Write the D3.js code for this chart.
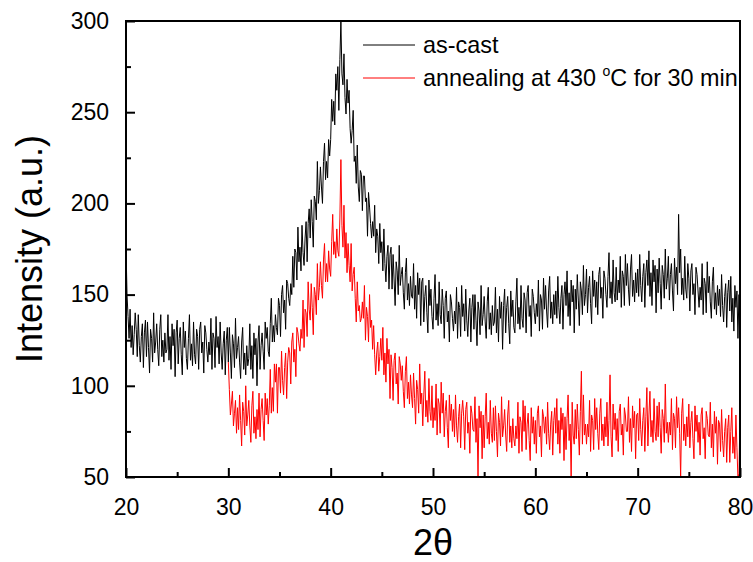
<!DOCTYPE html>
<html>
<head>
<meta charset="utf-8">
<script src="https://cdn.jsdelivr.net/npm/d3@7"></script>
<style>
  body { margin: 0; background: #fff; }
  svg { display: block; font-family: "Liberation Sans", Arial, sans-serif; }
</style>
</head>
<body>
<div id="chart"></div>
<script>
// ---- data ----
const seriesNames = ["as-cast", "annealing at 430 °C for 30 min"];
const seriesColors = ["#000000", "#ff0000"];
const xStep = 0.1;
const asCastStart = 20;
const asCast = [
176,150,138,126,142,121,133,117,128,140,
131,116,139,122,113,127,134,110,129,136,
116,135,121,107,131,126,113,140,118,124,
134,120,111,131,139,116,125,113,129,118,
120,139,114,127,109,134,122,131,105,129,
136,112,126,132,117,106,135,121,130,115,
109,126,139,114,123,111,135,117,112,131,
127,109,131,135,118,124,107,133,129,120,
113,124,117,137,109,129,126,110,138,121,
127,112,135,118,109,123,130,106,125,132,
113,132,118,104,128,123,110,137,115,121,
127,113,104,124,132,109,118,106,122,111,
115,134,109,122,104,129,117,126,100,124,
133,109,122,129,119,109,135,126,132,119,
116,134,148,124,133,124,139,132,128,148,
144,127,150,155,140,147,131,158,156,148,
144,156,150,171,154,175,173,158,187,168,
176,163,188,173,166,181,190,168,189,197,
181,202,190,176,204,201,191,223,200,207,
220,209,200,223,233,213,223,214,235,226,
235,257,245,256,243,271,262,275,251,279,
300,271,265,282,258,249,268,255,262,241,
233,240,251,223,226,211,232,209,201,218,
216,196,215,215,201,203,182,206,198,189,
181,190,182,199,173,186,182,167,189,173,
179,163,186,167,157,171,177,153,172,176,
153,172,158,144,168,163,150,177,155,161,
165,151,142,162,170,147,156,144,160,149,
148,167,142,155,137,162,150,159,133,157,
159,135,149,155,140,129,158,144,153,138,
131,148,161,136,145,133,157,139,134,153,
144,126,148,152,135,141,124,150,146,137,
130,141,134,154,126,146,143,127,155,138,
145,130,153,136,127,141,148,124,143,150,
131,150,136,122,146,141,128,155,133,139,
149,135,126,146,154,131,140,128,144,133,
135,154,129,142,124,149,137,146,120,144,
153,129,143,149,134,123,152,138,147,132,
129,146,159,134,143,131,155,137,132,151,
147,129,151,155,138,144,127,153,149,140,
134,145,138,158,130,150,147,131,159,142,
155,141,132,152,160,137,146,134,150,139,
152,137,160,143,134,148,155,131,150,157,
144,163,138,151,133,158,146,155,129,153,
142,161,147,133,157,152,139,166,144,150,
164,140,154,160,145,134,163,149,158,143,
157,139,161,165,148,154,137,163,159,150,
143,160,173,148,157,145,169,151,146,165,
147,158,151,171,143,163,160,144,172,155,
167,153,144,164,172,149,158,146,162,151,
164,149,172,155,146,160,167,143,162,169,
155,174,149,162,144,169,157,166,140,164,
151,170,156,142,166,161,148,175,153,159,
171,147,161,167,152,141,170,156,165,150,
194,162,175,150,159,147,171,153,148,167,
159,141,163,167,150,156,139,165,161,152,
143,154,147,167,139,159,156,140,168,151,
160,146,137,157,165,142,151,139,155,144,
153,138,161,144,135,149,156,132,151,158,
141,160,135,148,130,155,143,152,126,150,
116
];
const annealedStart = 30;
const annealed = [
113,98,84,90,97,78,85,92,74,88,
76,95,81,67,91,86,73,100,78,84,
92,78,69,89,97,74,83,71,87,76,
96,72,87,93,81,70,96,84,93,79,
89,109,85,99,86,112,102,112,85,110,
110,96,119,103,95,110,118,93,113,121,
118,101,124,129,113,120,105,132,129,123,
119,131,126,147,121,142,140,127,157,142,
136,156,143,128,154,150,139,167,147,154,
168,155,148,169,178,157,167,157,174,164,
160,179,194,172,179,170,186,174,171,192,
224,188,176,199,170,184,162,178,166,157,
178,152,161,165,148,135,157,141,144,135,
137,146,137,155,125,143,138,124,150,132,
136,120,133,117,106,118,124,108,116,126,
114,132,106,118,102,126,112,120,93,117,
110,92,114,118,101,107,90,116,112,103,
111,97,88,108,116,93,102,90,106,95,
88,107,93,79,103,98,85,112,90,96,
78,95,108,83,92,80,104,86,81,100,
77,88,81,101,73,93,90,74,102,85,
96,72,86,92,77,66,95,81,90,75,
87,72,95,78,69,83,90,66,85,92,
83,65,87,91,74,80,63,89,85,76,
75,94,69,82,50,89,77,86,60,84,
66,83,96,71,80,68,92,74,69,88,
70,89,75,61,85,80,67,94,72,78,
87,73,64,84,92,69,78,66,82,71,
67,78,71,91,63,83,80,64,92,75,
89,65,79,85,70,59,88,74,83,68,
81,63,85,89,72,78,61,87,83,74,
83,68,91,74,65,79,86,62,81,88,
74,93,68,81,63,88,76,85,59,83,
65,82,95,70,79,49,91,73,68,87,
71,90,76,62,86,108,68,95,73,79,
68,79,72,92,64,84,81,65,93,76,
88,74,65,85,93,70,79,67,83,72,
91,67,81,106,72,61,90,76,85,70,
82,64,86,90,73,79,62,88,84,75,
75,94,69,82,64,89,77,86,60,84,
85,70,93,76,67,81,88,64,83,99,
67,84,97,72,81,69,93,75,70,89,
72,91,77,63,87,82,69,101,74,80,
69,80,73,93,65,85,82,66,94,77,
88,74,50,85,93,70,79,67,83,72,
90,66,80,86,71,60,89,75,84,69,
80,62,84,88,71,77,60,86,82,73,
72,91,66,79,61,86,74,83,57,81,
79,64,87,70,61,75,82,58,77,84,
58,75,88,63,72,60,84,66,49,52,
86
];
const xTicks = [20, 30, 40, 50, 60, 70, 80];
const xMinorTicks = [25, 35, 45, 55, 65, 75];
const yTicks = [50, 100, 150, 200, 250, 300];
const yMinorTicks = [75, 125, 175, 225, 275];
const xLabel = "2θ";
const yLabel = "Intensity (a.u.)";

// ---- layout ----
const W = 753, H = 562;
const L = 126, R = 740, T = 21, B = 477;

const svg = d3.select("#chart").append("svg").attr("width", W).attr("height", H);

const x = d3.scaleLinear().domain([20, 80]).range([L, R]);
const y = d3.scaleLinear().domain([50, 300]).range([B, T]);

svg.append("clipPath").attr("id", "plotclip")
  .append("rect").attr("x", L).attr("y", T).attr("width", R - L).attr("height", B - T);

const toPts = (arr, start) => arr.map((v, i) => [start + i * xStep, v]);
const line = d3.line().x(d => x(d[0])).y(d => y(d[1]));

const g = svg.append("g").attr("clip-path", "url(#plotclip)");
g.append("path").datum(toPts(asCast, asCastStart))
  .attr("d", line).attr("fill", "none").attr("stroke", seriesColors[0]).attr("stroke-width", 1);
g.append("path").datum(toPts(annealed, annealedStart))
  .attr("d", line).attr("fill", "none").attr("stroke", seriesColors[1]).attr("stroke-width", 1);

// axes (ticks inward)
const fontSize = 23;
svg.append("g").attr("transform", `translate(0,${B})`)
  .call(d3.axisBottom(x).tickValues(xTicks).tickSize(-9).tickPadding(22).tickFormat(d3.format("d")));
svg.append("g").attr("transform", `translate(0,${B})`)
  .call(d3.axisBottom(x).tickValues(xMinorTicks).tickSize(-5).tickFormat(""));
svg.append("g").attr("transform", `translate(${L},0)`)
  .call(d3.axisLeft(y).tickValues(yTicks).tickSize(-9).tickPadding(17).tickFormat(d3.format("d")));
svg.append("g").attr("transform", `translate(${L},0)`)
  .call(d3.axisLeft(y).tickValues(yMinorTicks).tickSize(-5).tickFormat(""));

svg.selectAll(".domain").remove();
svg.selectAll(".tick line").attr("stroke", "#000").attr("stroke-width", 2);
svg.selectAll(".tick text").attr("font-size", fontSize)
  .attr("font-family", "'Liberation Sans', Arial, sans-serif").attr("fill", "#000");

// legend
const legend = svg.append("g");
const legY = [45, 78];
const legFont = 23.4;
seriesNames.forEach((name, i) => {
  legend.append("line").attr("x1", 363).attr("x2", 415).attr("y1", legY[i]).attr("y2", legY[i])
    .attr("stroke", seriesColors[i]).attr("stroke-width", 1);
});
legend.append("text").attr("x", 423).attr("y", legY[0] + 8).attr("font-size", legFont).text(seriesNames[0]);
const t2 = legend.append("text").attr("x", 423).attr("y", legY[1] + 8).attr("font-size", legFont);
t2.append("tspan").text("annealing at 430 ");
t2.append("tspan").attr("font-size", 14).attr("dy", -10).text("o");
t2.append("tspan").attr("dy", 10).text("C for 30 min");

// frame
svg.append("rect").attr("x", L).attr("y", T).attr("width", R - L).attr("height", B - T)
  .attr("fill", "none").attr("stroke", "#000").attr("stroke-width", 2);

// axis titles
svg.append("text").attr("x", (L + R) / 2).attr("y", 555).attr("text-anchor", "middle")
  .attr("font-size", 36).text(xLabel);
svg.append("text").attr("transform", `translate(42,${(T + B) / 2}) rotate(-90)`)
  .attr("text-anchor", "middle").attr("font-size", 36).text(yLabel);
</script>
</body>
</html>
